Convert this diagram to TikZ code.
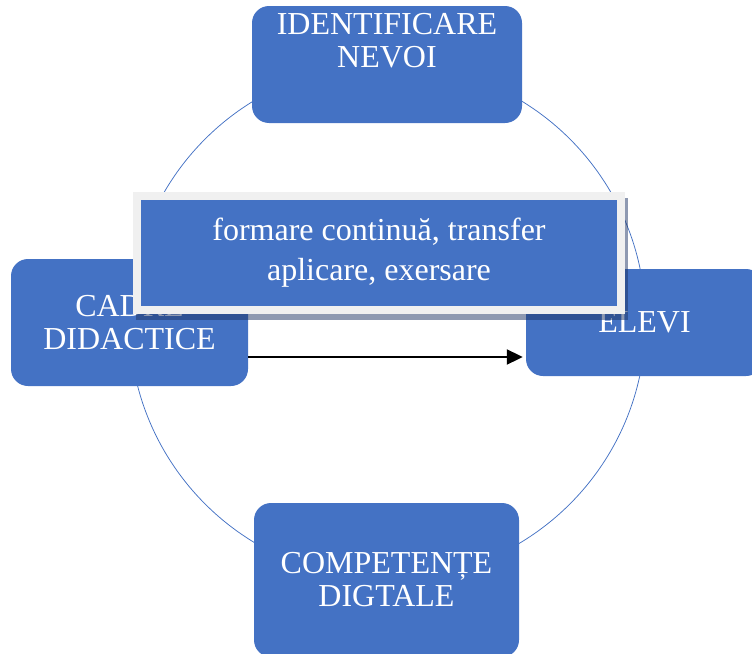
\documentclass[tikz,border=0pt]{standalone}
\usepackage{fontspec}
\setmainfont{Liberation Serif}
\usetikzlibrary{shadows,arrows.meta}
\definecolor{smblue}{HTML}{4472C4}
\definecolor{panelgray}{HTML}{F0F0F0}
\definecolor{shadowblue}{RGB}{30,52,100}
\tikzset{
  smbox/.style={rectangle,rounded corners=17pt,fill=smblue,inner sep=0pt},
  boxtext/.style={text=white,align=center,font=\fontsize{32}{33}\selectfont,inner sep=0pt},
  panel/.style={rectangle,fill=panelgray,inner sep=0pt,minimum width=492pt,minimum height=122pt,
    drop shadow={shadow xshift=3pt,shadow yshift=-6pt,fill=shadowblue,opacity=.5}},
  panelbox/.style={rectangle,fill=smblue,text=white,align=center,inner sep=0pt,
    minimum width=476pt,minimum height=106pt,font=\fontsize{32}{40}\selectfont},
  flow/.style={-{Triangle[length=16pt,width=15pt]},line width=2pt,black}
}
\begin{document}
\begin{tikzpicture}[x=1pt,y=-1pt]
\useasboundingbox (0,0) rectangle (752,653);
\draw[smblue,line width=.75pt] (387.5,321.5) circle (258);
% four boxes round the circle
\node[smbox,minimum width=270pt,minimum height=117pt] (nevoi) at (387,64.5) {};
\node[boxtext] (nevoitext) at ([yshift=24pt]nevoi.center) {IDENTIFICARE\\NEVOI};
\node[smbox,boxtext,minimum width=237pt,minimum height=127pt] (cadre) at (129.5,322.5) {CADRE\\DIDACTICE};
\node[smbox,boxtext,minimum width=237pt,minimum height=107pt] (elevi) at (644.5,322.5) {ELEVI};
\node[smbox,boxtext,minimum width=265pt,minimum height=154pt] (comp) at (386.5,580) {COMPETENȚE\\DIGTALE};
\coordinate (arrowstart) at ([yshift=-34.5pt]cadre.east);
\draw[flow,shorten >=3pt] (arrowstart) -- (arrowstart -| elevi.west);
% middle panel
\node[panel] (panel) at (379,253) {};
\node[panelbox] (formare) at (panel.center) {formare continuă, transfer\\aplicare, exersare};
\end{tikzpicture}
\end{document}
